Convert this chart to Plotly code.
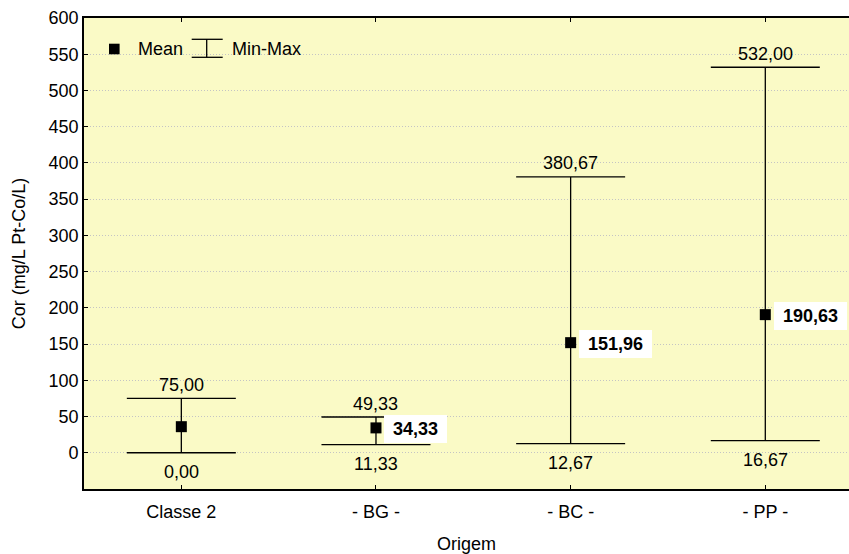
import plotly.graph_objects as go

categories = ["Classe 2", "- BG -", "- BC -", "- PP -"]
mean_vals = [36.0, 34.33, 151.96, 190.63]
min_vals = [0.00, 11.33, 12.67, 16.67]
max_vals = [75.00, 49.33, 380.67, 532.00]
show_mean_label = [False, True, True, True]
y_ticks = [0, 50, 100, 150, 200, 250, 300, 350, 400, 450, 500, 550, 600]

FONT = "Liberation Sans, Arial, sans-serif"
FS = 18
BG = "#FAFAC6"


def fmt(v):
    return f"{v:.2f}".replace(".", ",")


err_plus = [mx - m for mx, m in zip(max_vals, mean_vals)]
err_minus = [m - mn for m, mn in zip(mean_vals, min_vals)]

fig = go.Figure()
fig.add_trace(go.Scatter(
    x=categories, y=mean_vals, mode="markers",
    marker=dict(symbol="square", size=11, color="black"),
    error_y=dict(type="data", symmetric=False, array=err_plus, arrayminus=err_minus,
                 color="black", thickness=1.3, width=54.5),
    showlegend=False, hoverinfo="skip",
))

ann = []
for c, mx, mn, m, show in zip(categories, max_vals, min_vals, mean_vals, show_mean_label):
    ann.append(dict(x=c, y=mx, text=fmt(mx), showarrow=False, yanchor="middle",
                    yshift=13.5, font=dict(family=FONT, size=FS, color="black")))
    ann.append(dict(x=c, y=mn, text=fmt(mn), showarrow=False, yanchor="middle",
                    yshift=-19, font=dict(family=FONT, size=FS, color="black")))
    if show:
        ann.append(dict(x=c, y=m, text="\u00a0" + fmt(m) + "\u00a0", showarrow=False,
                        xanchor="left", yanchor="middle", xshift=8.5, yshift=-1.5,
                        bgcolor="white", borderpad=4, borderwidth=0,
                        font=dict(family=FONT, size=FS, color="black", weight="bold")))

# manual legend (top-left, inside plot)
ann.append(dict(xref="paper", yref="paper", x=0, y=1, xanchor="left", yanchor="middle",
                xshift=52, yshift=-31, text="Mean", showarrow=False,
                font=dict(family=FONT, size=FS, color="black")))
ann.append(dict(xref="paper", yref="paper", x=0, y=1, xanchor="left", yanchor="middle",
                xshift=146, yshift=-31, text="Min-Max", showarrow=False,
                font=dict(family=FONT, size=FS, color="black")))

shapes = [
    dict(type="rect", xref="paper", yref="paper", xsizemode="pixel", ysizemode="pixel",
         xanchor=0, yanchor=1, x0=25, x1=35.6, y0=-25.7, y1=-36.3,
         fillcolor="black", line=dict(width=0)),
    dict(type="line", xref="paper", yref="paper", xsizemode="pixel", ysizemode="pixel",
         xanchor=0, yanchor=1, x0=107.7, x1=138.7, y0=-21.3, y1=-21.3,
         line=dict(color="black", width=1.3)),
    dict(type="line", xref="paper", yref="paper", xsizemode="pixel", ysizemode="pixel",
         xanchor=0, yanchor=1, x0=107.7, x1=138.7, y0=-39.3, y1=-39.3,
         line=dict(color="black", width=1.3)),
    dict(type="line", xref="paper", yref="paper", xsizemode="pixel", ysizemode="pixel",
         xanchor=0, yanchor=1, x0=122.7, x1=122.7, y0=-21.3, y1=-39.3,
         line=dict(color="black", width=1.3)),
]

fig.update_layout(
    width=849, height=554,
    margin=dict(l=84, r=0, t=18, b=65),
    paper_bgcolor="white", plot_bgcolor=BG,
    font=dict(family=FONT, size=FS, color="black"),
    annotations=ann, shapes=shapes,
    xaxis=dict(
        type="category", range=[-0.5, 3.43],
        showline=True, linecolor="black", linewidth=1.6, mirror="ticks",
        ticks="inside", ticklen=4, tickcolor="black", tickwidth=1.3,
        showgrid=False, zeroline=False, ticklabelstandoff=6,
        tickfont=dict(family=FONT, size=FS, color="black"),
        title=dict(text="Origem", standoff=17, font=dict(family=FONT, size=FS, color="black")),
    ),
    yaxis=dict(
        range=[-50, 600], tickvals=y_ticks, ticktext=[str(v) for v in y_ticks],
        showline=True, linecolor="black", linewidth=1.6, mirror=False,
        ticks="inside", ticklen=4, tickcolor="black", tickwidth=1.3,
        showgrid=True, gridcolor="#c4c4c4", griddash="1px,2px", gridwidth=1,
        zeroline=False,
        tickfont=dict(family=FONT, size=FS, color="black"),
        title=dict(text="Cor (mg/L Pt-Co/L)", standoff=18, font=dict(family=FONT, size=FS, color="black")),
    ),
)

fig.write_html(
    "out.html",
    config={"displayModeBar": False},
    post_script="document.body.style.margin='0';document.body.style.overflow='hidden';",
)
